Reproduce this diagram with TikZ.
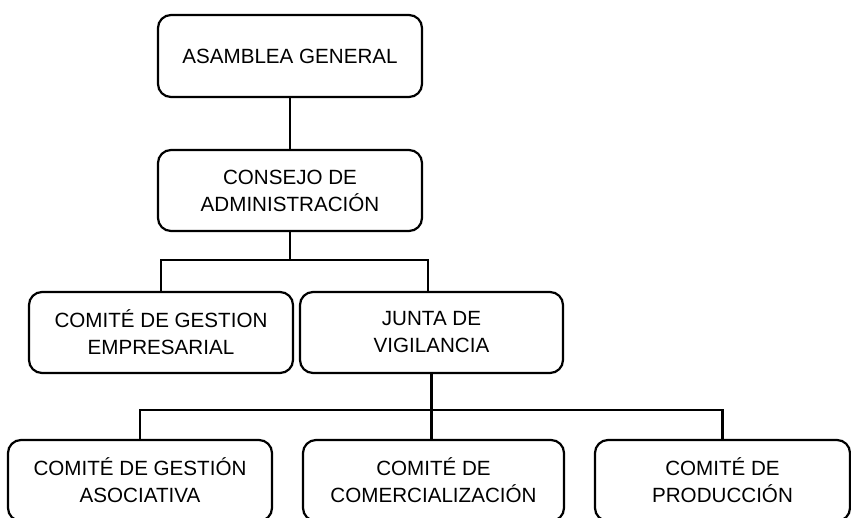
\documentclass[tikz,border=0pt]{standalone}
\usepackage{fontspec}
\setmainfont{Liberation Sans}
\begin{document}
\begin{tikzpicture}[x=1pt,y=-1pt,
  orgbox/.style={draw=black, line width=2.2pt, rounded corners=13pt, fill=white,
    minimum height=81pt, inner sep=0pt, align=center, text=black,
    font=\fontsize{20.6}{27}\selectfont},
  conn/.style={draw=black, line width=2.6pt}]
\useasboundingbox (0,0) rectangle (851,517);
\node[orgbox, minimum width=264pt, minimum height=82pt] (b1) at (290,56) {ASAMBLEA GENERAL};
\node[orgbox, minimum width=264pt] (b2) at (290,190.5) {CONSEJO DE\\ADMINISTRACIÓN};
\node[orgbox, minimum width=264pt] (b3) at (161,332.5) {COMITÉ DE GESTION\\EMPRESARIAL};
\node[orgbox, minimum width=263pt] (b4) at (431.5,332.5) {JUNTA DE\\VIGILANCIA};
\node[orgbox, minimum width=264pt] (b5) at (140,480.5) {COMITÉ DE GESTIÓN\\ASOCIATIVA};
\node[orgbox, minimum width=261pt] (b6) at (433.5,480.5) {COMITÉ DE\\COMERCIALIZACIÓN};
\node[orgbox, minimum width=255pt] (b7) at (722.5,480.5) {COMITÉ DE\\PRODUCCIÓN};
\coordinate (j1) at (290,260);
\coordinate (j2) at (431.5,410);
\draw[conn] (b1.south) -- (b2.north);
\draw[conn] (b2.south) -- (j1);
\draw[conn] (b3.north) |- (j1) -| ([xshift=-3.5pt]b4.north);
\draw[conn] (b4.south) -- (j2);
\draw[conn] (b5.north) |- (j2) -| (b7.north);
\draw[conn] (j2) -- ([xshift=-2pt]b6.north);
\end{tikzpicture}
\end{document}
